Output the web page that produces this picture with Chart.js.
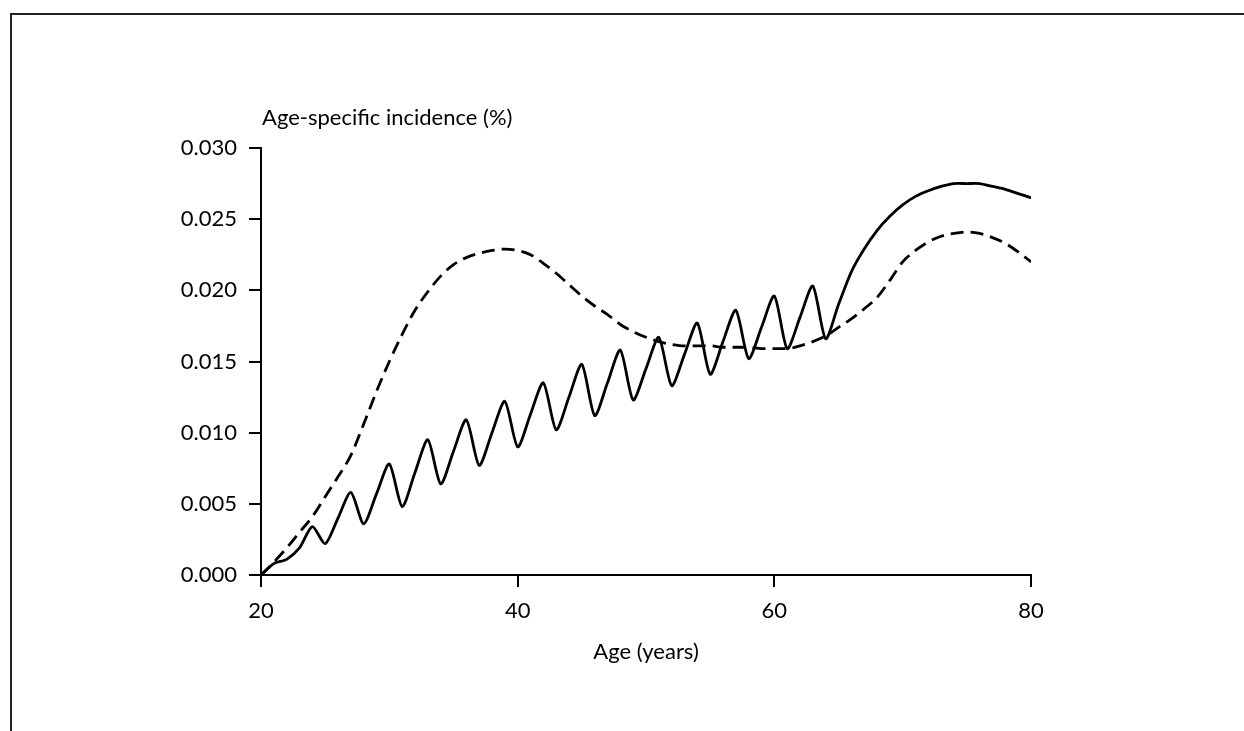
<!DOCTYPE html>
<html>
<head>
<meta charset="utf-8">
<script src="https://cdn.jsdelivr.net/npm/chart.js@4/dist/chart.umd.min.js"></script>
<style>
  html, body { margin: 0; padding: 0; background: #fff; overflow: hidden; }
  #wrap { position: relative; width: 1244px; height: 731px; }
  #frame { position: absolute; left: 10px; top: 13px; width: 1300px; height: 800px;
           border-top: 2px solid #222; border-left: 2px solid #222; pointer-events: none; }
  canvas { position: absolute; left: 0; top: 0; }
</style>
</head>
<body>
<div id="wrap">
  <div id="frame"></div>
  <canvas id="c" width="1244" height="731"></canvas>
</div>
<script>
// Ages (years)
const ages = [20,21,22,23,24,25,26,27,28,29,30,31,32,33,34,35,36,37,38,39,40,
              41,42,43,44,45,46,47,48,49,50,51,52,53,54,55,56,57,58,59,60,
              61,62,63,64,65,66,67,68,69,70,71,72,73,74,75,76,77,78,79,80];

// Solid curve (sawtooth, then smooth hump)
const solidValues = [0.0000,0.0008,0.0011,0.0019,0.0034,0.0022,0.0040,0.0058,0.0036,0.0057,0.0078,
                     0.0048,0.0072,0.0095,0.0064,0.0087,0.0109,0.0077,0.0100,0.0122,0.0090,
                     0.0113,0.0135,0.0102,0.0125,0.0148,0.0112,0.0135,0.0158,0.0123,0.0145,
                     0.0167,0.0133,0.0155,0.0177,0.0141,0.0164,0.0186,0.0152,0.0174,0.0196,
                     0.0159,0.0181,0.0203,0.0166,0.0190,0.0213,0.0229,0.0242,0.0252,0.0260,
                     0.0266,0.0270,0.0273,0.0275,0.0275,0.0275,0.0273,0.0271,0.0268,0.0265];

// Dashed curve (smooth)
const dashedValues = [0.0000,0.0009,0.0019,0.0030,0.0041,0.0055,0.0069,0.0084,0.0106,0.0129,0.0150,
                      0.0169,0.0186,0.0199,0.0210,0.0218,0.0223,0.0226,0.0228,0.0229,0.0228,
                      0.0225,0.0219,0.0212,0.0204,0.0196,0.0189,0.0183,0.0176,0.0171,0.0167,
                      0.0164,0.0162,0.0161,0.0161,0.0161,0.0160,0.0160,0.0160,0.0159,0.0159,
                      0.0159,0.0161,0.0164,0.0168,0.0174,0.0180,0.0187,0.0195,0.0207,0.0220,
                      0.0228,0.0234,0.0238,0.0240,0.0241,0.0240,0.0237,0.0233,0.0227,0.0220];

const xTicks = [20, 40, 60, 80];
const yTickLabels = ['0.000','0.005','0.010','0.015','0.020','0.025','0.030'];

const yTitle = 'Age-specific incidence (%)';
const xTitle = 'Age (years)';

const FONT = 'Lato, "Open Sans", sans-serif';
const FSIZE = 22;

const toPts = (vals) => ages.map((a, i) => ({ x: a, y: vals[i] }));

const yTitlePlugin = {
  id: 'yTitle',
  afterDraw(chart) {
    const { ctx, chartArea } = chart;
    ctx.save();
    ctx.font = FSIZE + 'px ' + FONT;
    ctx.fillStyle = '#000';
    ctx.textAlign = 'left';
    ctx.textBaseline = 'middle';
    ctx.fillText(yTitle, chartArea.left + 1, chartArea.top - 30);
    ctx.restore();
  }
};

new Chart(document.getElementById('c'), {
  type: 'line',
  data: {
    datasets: [
      {
        label: 'solid',
        data: toPts(solidValues),
        borderColor: '#000',
        borderWidth: 2.8,
        pointRadius: 0,
        fill: false,
        tension: 0.25
      },
      {
        label: 'dashed',
        data: toPts(dashedValues),
        borderColor: '#000',
        borderWidth: 2.8,
        borderDash: [13, 7],
        pointRadius: 0,
        fill: false,
        cubicInterpolationMode: 'monotone'
      }
    ]
  },
  options: {
    responsive: false,
    animation: false,
    devicePixelRatio: 1,
    layout: { padding: { left: 0, right: 213, top: 148, bottom: 66 } },
    plugins: { legend: { display: false }, tooltip: { enabled: false }, title: { display: false } },
    scales: {
      x: {
        type: 'linear',
        min: 20, max: 80,
        afterBuildTicks(scale) { scale.ticks = xTicks.map(v => ({ value: v })); },
        afterFit(scale) { scale.height = 90; },
        ticks: { color: '#000', font: { family: FONT, size: FSIZE }, padding: 11, maxRotation: 0 },
        grid: { display: true, drawOnChartArea: false, drawTicks: true, tickLength: 12, color: '#000', lineWidth: 2 },
        border: { display: true, color: '#000', width: 2 },
        title: { display: true, text: xTitle, color: '#000', font: { family: FONT, size: FSIZE }, padding: { top: 0, bottom: 0 } }
      },
      y: {
        type: 'linear',
        min: 0, max: 0.03,
        afterBuildTicks(scale) { scale.ticks = yTickLabels.map(s => ({ value: parseFloat(s) })); },
        afterFit(scale) { scale.width = 261; },
        ticks: {
          color: '#000', font: { family: FONT, size: FSIZE }, padding: 12,
          callback: (v, i) => yTickLabels[i]
        },
        grid: { display: true, drawOnChartArea: false, drawTicks: true, tickLength: 12, color: '#000', lineWidth: 2 },
        border: { display: true, color: '#000', width: 2 }
      }
    }
  },
  plugins: [yTitlePlugin]
});
</script>
</body>
</html>
